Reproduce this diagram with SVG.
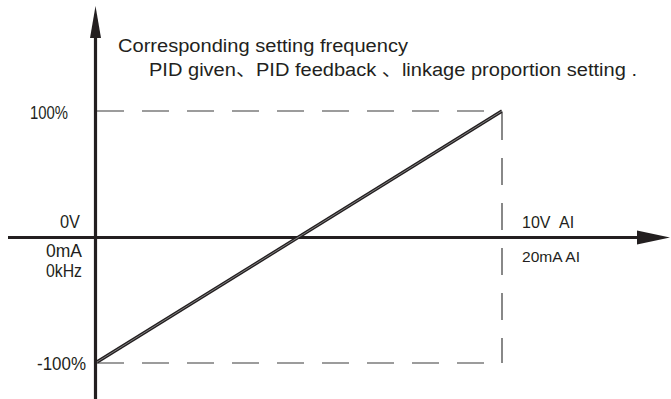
<svg xmlns="http://www.w3.org/2000/svg" width="671" height="399" viewBox="0 0 671 399">
  <style>
    .axis { stroke: #231f20; stroke-width: 3.2; fill: none; }
    .dash { stroke: #3a3a3a; stroke-width: 1.2; fill: none; stroke-dasharray: 27 18; }
    .head { fill: #231f20; }
    .lbl { font-family: "Liberation Sans", Arial, sans-serif; fill: #231f20; }
    .cap { font-family: "Liberation Sans", "Noto Sans CJK SC", Arial, sans-serif; fill: #231f20; font-size: 18px; }
  </style>
  <rect width="671" height="399" fill="#ffffff"/>

  <!-- reference guides -->
  <g id="guides">
    <line class="dash" x1="97" y1="111" x2="502" y2="111"/>
    <line class="dash" x1="502" y1="111" x2="502" y2="363" stroke-dashoffset="-2"/>
    <line class="dash" x1="97" y1="363" x2="502" y2="363"/>
  </g>

  <!-- axes -->
  <g id="axes">
    <line class="axis" x1="95.5" y1="30" x2="95.5" y2="399"/>
    <polygon class="head" points="95.5,6 101,38 90,38"/>
    <line class="axis" x1="8" y1="237.5" x2="640" y2="237.5"/>
    <polygon class="head" points="670,237.5 637,230.5 637,244.5"/>
  </g>

  <!-- characteristic curve -->
  <g id="curve">
    <line x1="97" y1="362" x2="502" y2="111" stroke="#231f20" stroke-width="3.4"/>
    <line x1="97" y1="362" x2="502" y2="111" stroke="#8a8a8a" stroke-width="0.9"/>
  </g>

  <!-- labels -->
  <g id="labels">
    <text class="cap" x="118" y="52" textLength="290" lengthAdjust="spacingAndGlyphs">Corresponding setting frequency</text>
    <text class="cap" x="149" y="76" textLength="488" lengthAdjust="spacingAndGlyphs">PID given、PID feedback 、linkage proportion setting .</text>
    <text class="lbl" x="30" y="119" font-size="18" textLength="38" lengthAdjust="spacingAndGlyphs">100%</text>
    <text class="lbl" x="60" y="228" font-size="18" textLength="20" lengthAdjust="spacingAndGlyphs">0V</text>
    <text class="lbl" x="46" y="257" font-size="18" textLength="36" lengthAdjust="spacingAndGlyphs">0mA</text>
    <text class="lbl" x="46" y="277" font-size="18" textLength="36" lengthAdjust="spacingAndGlyphs">0kHz</text>
    <text class="lbl" x="37" y="370" font-size="18" textLength="49" lengthAdjust="spacingAndGlyphs">-100%</text>
    <text class="lbl" y="228" font-size="16"><tspan x="522">10V</tspan><tspan x="559">AI</tspan></text>
    <text class="lbl" x="522" y="262" font-size="15" textLength="58" lengthAdjust="spacingAndGlyphs">20mA AI</text>
  </g>
</svg>
